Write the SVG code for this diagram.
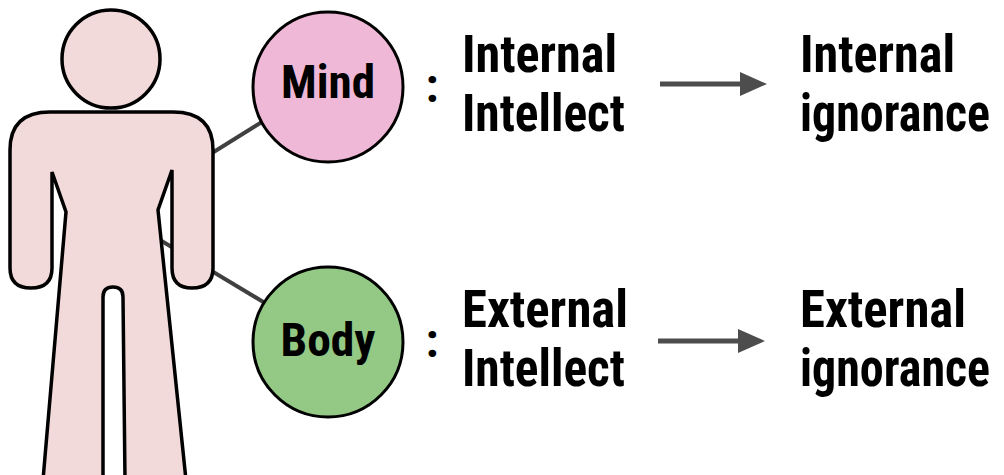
<svg xmlns="http://www.w3.org/2000/svg" width="1004" height="475" viewBox="0 0 1004 475">
<style>
.t{font-family:"Liberation Sans Narrow","Roboto Condensed","DejaVu Sans Condensed","Liberation Sans",sans-serif;font-weight:bold;fill:#000;}
.big{font-size:51px;}
.lab{font-size:46px;text-anchor:middle;}
.col{font-size:48px;text-anchor:middle;}
.conn{stroke:#404040;stroke-width:4;fill:none;}
.arr{stroke:#4d4d4d;stroke-width:5;fill:none;}
.node{stroke:#000;stroke-width:3;}
.fig{stroke:#000;stroke-width:3.5;fill:#f2d9da;}
</style>
<defs>
<marker id="ah" markerUnits="userSpaceOnUse" markerWidth="27" markerHeight="24" refX="0" refY="12" orient="auto" viewBox="0 0 27 24">
<path d="M0,0 L27,12 L0,24 Z" fill="#4d4d4d"/>
</marker>
</defs>
<g id="connectors">
<line class="conn" x1="180" y1="173" x2="270" y2="117"/>
<line class="conn" x1="160" y1="240" x2="270" y2="306"/>
<line class="arr" x1="660" y1="84" x2="740" y2="84" marker-end="url(#ah)"/>
<line class="arr" x1="658" y1="341" x2="738" y2="341" marker-end="url(#ah)"/>
</g>
<g id="person">
<circle class="fig" cx="111" cy="59" r="49"/>
<path class="fig" d="M10,268 L10,150 Q10,112 50,112 L173,112 Q213,112 213,150 L213,268 Q213,288 192,288 Q172,288 172,268 L172,170 L158,210 L186,480 L125,480 L123,297 Q123,287 113,287 Q103,287 103,297 L103,480 L43,480 L66,212 L52,172 L52,268 Q52,288 31,288 Q10,288 10,268 Z"/>
</g>
<g id="mind">
<circle class="node" cx="328" cy="87" r="75" fill="#f0b8d7"/>
<text class="t lab" x="328" y="98" textLength="94" lengthAdjust="spacingAndGlyphs">Mind</text>
</g>
<g id="body">
<circle class="node" cx="328" cy="342" r="75" fill="#94c985"/>
<text class="t lab" x="328" y="356" textLength="95" lengthAdjust="spacingAndGlyphs">Body</text>
</g>
<g id="internal-intellect">
<text class="t col" x="432" y="102">:</text>
<text class="t big" x="462" y="72" textLength="155" lengthAdjust="spacingAndGlyphs">Internal</text>
<text class="t big" x="462" y="131" textLength="163" lengthAdjust="spacingAndGlyphs">Intellect</text>
</g>
<g id="internal-ignorance">
<text class="t big" x="800" y="72" textLength="155" lengthAdjust="spacingAndGlyphs">Internal</text>
<text class="t big" x="800" y="131" textLength="190" lengthAdjust="spacingAndGlyphs">ignorance</text>
</g>
<g id="external-intellect">
<text class="t col" x="432" y="357">:</text>
<text class="t big" x="462" y="327" textLength="166" lengthAdjust="spacingAndGlyphs">External</text>
<text class="t big" x="462" y="386" textLength="163" lengthAdjust="spacingAndGlyphs">Intellect</text>
</g>
<g id="external-ignorance">
<text class="t big" x="800" y="327" textLength="166" lengthAdjust="spacingAndGlyphs">External</text>
<text class="t big" x="800" y="386" textLength="190" lengthAdjust="spacingAndGlyphs">ignorance</text>
</g>
</svg>
